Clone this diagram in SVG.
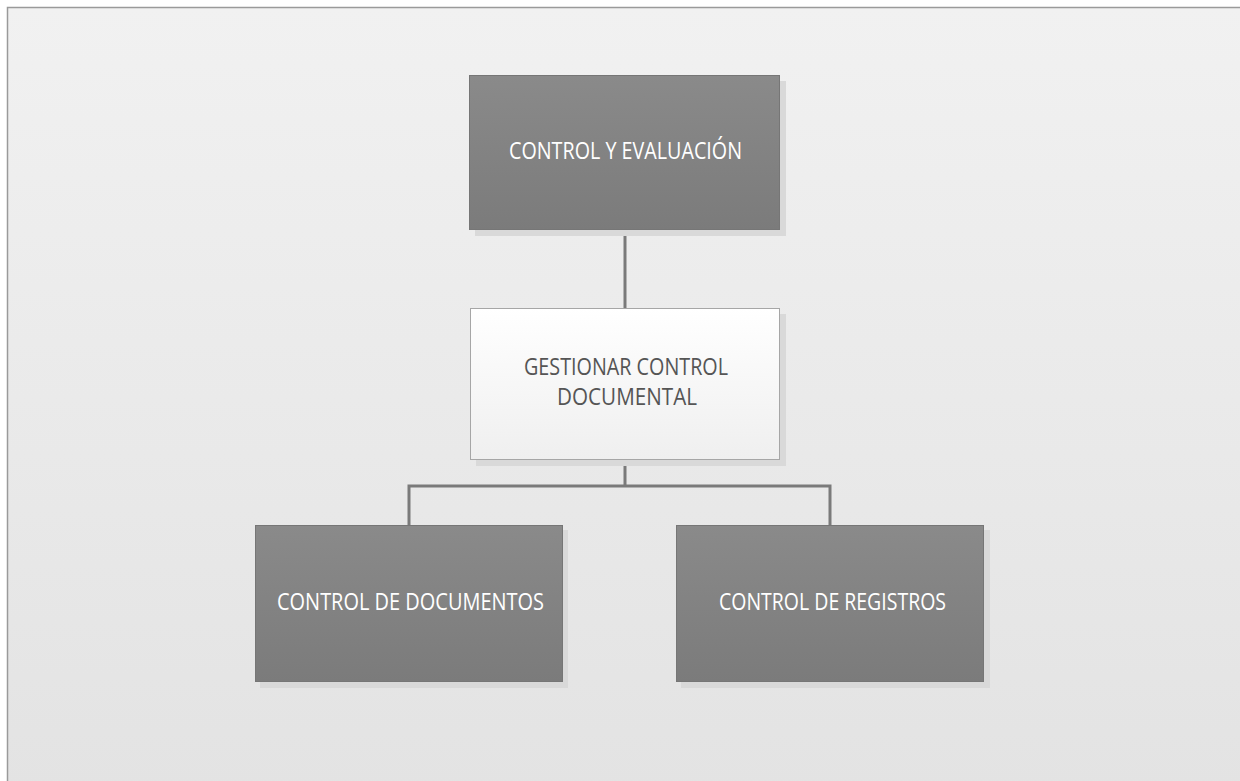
<svg xmlns="http://www.w3.org/2000/svg" width="1240" height="781" viewBox="0 0 1240 781">
  <defs>
    <linearGradient id="bg" x1="0" y1="0" x2="0" y2="1">
      <stop offset="0" stop-color="#f1f1f1"/>
      <stop offset="1" stop-color="#e3e3e3"/>
    </linearGradient>
    <linearGradient id="dark" x1="0" y1="0" x2="0" y2="1">
      <stop offset="0" stop-color="#8a8a8a"/>
      <stop offset="1" stop-color="#7b7b7b"/>
    </linearGradient>
    <linearGradient id="light" x1="0" y1="0" x2="0" y2="1">
      <stop offset="0" stop-color="#ffffff"/>
      <stop offset="1" stop-color="#efefef"/>
    </linearGradient>
  </defs>
  <style>
    .shadow { fill: #d9d9d9; }
    .dark { fill: url(#dark); stroke: #767676; stroke-width: 1; }
    .light { fill: url(#light); stroke: #a6a6a6; stroke-width: 1; }
    .lbl { font-family: "Open Sans", "Liberation Sans", sans-serif; font-size: 23.5px; text-anchor: middle; }
    .lbl-dark { fill: #ffffff; }
    .lbl-light { fill: #555555; }
    .conn { fill: none; stroke: #7a7a7a; stroke-width: 3; }
  </style>

  <!-- page background -->
  <rect x="0" y="0" width="1240" height="781" fill="#ffffff"/>
  <rect x="7.5" y="7.5" width="1240" height="781" fill="url(#bg)" stroke="#9a9a9a" stroke-width="1.5"/>

  <!-- connectors -->
  <g id="connectors">
    <path class="conn" d="M625 230 V308"/>
    <path class="conn" d="M625 460 V486 M409 486 H830 M409 484.5 V525 M830 484.5 V525"/>
  </g>

  <g id="node-control-evaluacion">
    <rect class="shadow" x="475" y="81" width="311" height="155"/>
    <rect class="dark" x="469.5" y="75.5" width="310" height="154"/>
    <text class="lbl lbl-dark" x="625.5" y="159" textLength="233" lengthAdjust="spacingAndGlyphs">CONTROL Y EVALUACIÓN</text>
  </g>

  <g id="node-gestionar">
    <rect class="shadow" x="476" y="314" width="310" height="152"/>
    <rect class="light" x="470.5" y="308.5" width="309" height="151"/>
    <text class="lbl lbl-light" x="626" y="375" textLength="204" lengthAdjust="spacingAndGlyphs">GESTIONAR CONTROL</text>
    <text class="lbl lbl-light" x="627" y="405" textLength="140" lengthAdjust="spacingAndGlyphs">DOCUMENTAL</text>
  </g>

  <g id="node-documentos">
    <rect class="shadow" x="260" y="530" width="308" height="158"/>
    <rect class="dark" x="255.5" y="525.5" width="307" height="156"/>
    <text class="lbl lbl-dark" x="410.5" y="610" textLength="267" lengthAdjust="spacingAndGlyphs">CONTROL DE DOCUMENTOS</text>
  </g>

  <g id="node-registros">
    <rect class="shadow" x="681" y="530" width="309" height="158"/>
    <rect class="dark" x="676.5" y="525.5" width="307" height="156"/>
    <text class="lbl lbl-dark" x="832.5" y="610" textLength="227" lengthAdjust="spacingAndGlyphs">CONTROL DE REGISTROS</text>
  </g>
</svg>
